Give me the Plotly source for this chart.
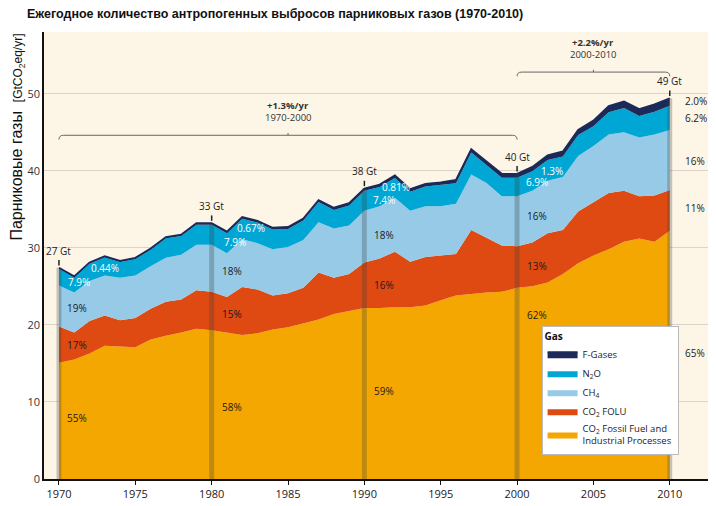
import plotly.graph_objects as go

years = list(range(1970, 2011))
fossil = [15.1, 15.5, 16.3, 17.3, 17.2, 17.1, 18.1, 18.6, 19.0, 19.5,
          19.3, 19.0, 18.7, 18.9, 19.4, 19.7, 20.2, 20.7, 21.4, 21.8,
          22.2, 22.2, 22.3, 22.3, 22.5, 23.2, 23.8, 24.0, 24.2, 24.3,
          24.8, 25.0, 25.5, 26.6, 28.0, 29.0, 29.8, 30.8, 31.2, 30.8, 32.2]
folu = [4.7, 3.5, 4.2, 3.9, 3.4, 3.8, 4.0, 4.4, 4.3, 5.0,
        5.0, 4.6, 6.2, 5.7, 4.4, 4.4, 4.6, 6.1, 4.7, 4.8,
        5.9, 6.4, 7.2, 5.9, 6.3, 5.8, 5.4, 8.3, 7.1, 6.0,
        5.4, 5.7, 6.4, 5.7, 6.7, 6.9, 7.3, 6.6, 5.5, 6.0, 5.3]
ch4 = [5.3, 5.2, 5.2, 5.2, 5.5, 5.5, 5.5, 5.7, 5.8, 5.9,
       6.1, 5.7, 6.2, 6.0, 6.0, 6.0, 6.2, 6.5, 6.4, 6.3,
       6.7, 6.8, 7.0, 6.6, 6.6, 6.4, 6.5, 7.2, 7.1, 6.4,
       6.5, 6.7, 6.8, 6.9, 7.2, 7.3, 7.6, 7.6, 7.6, 7.9, 7.8]
n2o = [2.18, 1.98, 2.27, 2.36, 2.06, 2.15, 2.14, 2.53, 2.42, 2.60,
       2.58, 2.58, 2.67, 2.67, 2.56, 2.35, 2.54, 2.63, 2.42, 2.60,
       2.59, 2.48, 2.57, 2.46, 2.54, 2.72, 2.69, 2.86, 2.33, 2.40,
       2.38, 2.54, 2.70, 2.66, 2.72, 2.56, 2.90, 3.15, 2.80, 2.96, 3.12]
fgas = [0.12, 0.12, 0.13, 0.14, 0.14, 0.15, 0.16, 0.17, 0.18, 0.20,
        0.22, 0.22, 0.23, 0.23, 0.24, 0.25, 0.26, 0.27, 0.28, 0.30,
        0.31, 0.32, 0.33, 0.34, 0.36, 0.38, 0.41, 0.44, 0.47, 0.50,
        0.52, 0.56, 0.60, 0.64, 0.68, 0.74, 0.80, 0.85, 0.90, 0.94, 0.98]

series_names = ["CO<sub>2</sub> Fossil Fuel and<br>Industrial Processes",
                "CO<sub>2</sub> FOLU", "CH<sub>4</sub>", "N<sub>2</sub>O", "F-Gases"]
series_colors = ["#F4A700", "#DE4A12", "#96CAE6", "#00A7D4", "#1C2A5A"]

decades = [1970, 1980, 1990, 2000, 2010]

# percentage labels per decade (1970..2000), inside the chart
pct_fgas = ["0.44%", "0.67%", "0.81%", "1.3%"]
pct_n2o = ["7.9%", "7.9%", "7.4%", "6.9%"]
pct_ch4 = ["19%", "18%", "18%", "16%"]
pct_folu = ["17%", "15%", "16%", "13%"]
pct_fossil = ["55%", "58%", "59%", "62%"]
# labels at the right of 2010
pct_2010 = ["2.0%", "6.2%", "16%", "11%", "65%"]

# growth brackets
bracket_spans = [(1970, 2000), (2000, 2010)]
bracket_rate = ["+1.3%/yr", "+2.2%/yr"]
bracket_period = ["1970-2000", "2000-2010"]

totals = [a + b + c + d + e for a, b, c, d, e in zip(fossil, folu, ch4, n2o, fgas)]

fig = go.Figure()
for vals, name, col in zip([fossil, folu, ch4, n2o, fgas], series_names, series_colors):
    is_top = name == "F-Gases"
    fig.add_trace(go.Scatter(
        x=years, y=vals, name=name, stackgroup="one", mode="lines",
        line=dict(width=1.8 if is_top else 0, color=col),
        fillcolor=col, hoverinfo="skip"))

shapes = []
annotations = []

# decade bars, Gt labels
for yr in decades:
    i = years.index(yr)
    t = totals[i]
    shapes.append(dict(type="rect", xref="x", yref="y", x0=yr - 0.16, x1=yr + 0.16,
                       y0=0, y1=t, fillcolor="rgba(50,60,60,0.28)", line=dict(width=0),
                       layer="above"))
    shapes.append(dict(type="line", xref="x", yref="y", x0=yr, x1=yr, y0=t + 0.3, y1=t + 1.0,
                       line=dict(color="#222", width=1.5)))
    annotations.append(dict(x=yr, y=t + 2.2, xref="x", yref="y", text=f"{round(t)} Gt",
                            showarrow=False, font=dict(size=10, color="#222", family="Open Sans")))

# inside labels
lbl_font = "Open Sans"
pos = {
    1970: [(1973.0, 27.4), (1971.3, 25.6), (1971.2, 22.2), (1971.2, 17.4), (1971.2, 7.9)],
    1980: [(1982.6, 32.6), (1981.5, 30.7), (1981.35, 27.0), (1981.35, 21.4), (1981.35, 9.3)],
    1990: [(1992.1, 37.9), (1991.3, 36.2), (1991.3, 31.6), (1991.3, 25.2), (1991.3, 11.4)],
    2000: [(2002.3, 40.0), (2001.3, 38.5), (2001.3, 34.1), (2001.3, 27.7), (2001.3, 21.3)],
}
for k, yr in enumerate(decades[:4]):
    texts = [pct_fgas[k], pct_n2o[k], pct_ch4[k], pct_folu[k], pct_fossil[k]]
    cols = ["white", "white", "#1a1a1a", "#1a1a1a", "#1a1a1a"]
    for (x, y), tx, c in zip(pos[yr], texts, cols):
        annotations.append(dict(x=x, y=y, xref="x", yref="y", text=tx, showarrow=False,
                                font=dict(size=10, color=c, family=lbl_font)))

right_y = [49.1, 46.9, 41.3, 35.1, 16.3]
for tx, y in zip(pct_2010, right_y):
    annotations.append(dict(x=2010.85, y=y, xref="x", yref="y", text=tx, showarrow=False,
                            xanchor="left", font=dict(size=10, color="#1a1a1a", family=lbl_font)))

# brackets
bracket_y = [44.6, 52.8]
for (a, b), rate, per, by in zip(bracket_spans, bracket_rate, bracket_period, bracket_y):
    mid = (a + b) / 2
    shapes.append(dict(type="path", xref="x", yref="y",
                       path=f"M {a},{by - 0.55} Q {a},{by} {a + 0.3},{by} L {b - 0.3},{by} Q {b},{by} {b},{by - 0.55}",
                       line=dict(color="#666", width=1)))
    shapes.append(dict(type="line", xref="x", yref="y", x0=mid, x1=mid, y0=by, y1=by + 0.3,
                       line=dict(color="#666", width=1)))
    annotations.append(dict(x=mid, y=by + 3.85, xref="x", yref="y", text=f"<b>{rate}</b>",
                            showarrow=False, font=dict(size=9.5, color="#333", family=lbl_font)))
    annotations.append(dict(x=mid, y=by + 2.3, xref="x", yref="y", text=per,
                            showarrow=False, font=dict(size=9.5, color="#333", family=lbl_font)))

# y-axis title
annotations.append(dict(x=-0.039, y=0.766, xref="paper", yref="paper", textangle=-90,
                        text="Парниковые газы  <span style='font-size:12px'>[GtCO<sub>2</sub>eq/yr]</span>",
                        showarrow=False, xanchor="center", yanchor="middle",
                        font=dict(size=16, color="#111", family="Liberation Sans")))

# page body has an 8px margin: figure sized so that the visible window matches
fig.update_layout(
    width=708, height=498,
    margin=dict(l=36, r=5, t=24, b=25),
    paper_bgcolor="white", plot_bgcolor="#FDF5E6",
    title=dict(text="<b>Ежегодное количество антропогенных выбросов парниковых газов (1970-2010)</b>",
               x=19 / 708, xanchor="left", y=1 - 5.5 / 498, yanchor="middle",
               font=dict(size=12.5, color="#111", family="Liberation Sans")),
    xaxis=dict(range=[1969.02, 2012.7], tickvals=list(range(1970, 2011, 5)), showgrid=False,
               showline=True, linecolor="#111", linewidth=1.5, ticks="outside", ticklen=4,
               tickcolor="#111", zeroline=False,
               tickfont=dict(size=11, color="#222", family="Open Sans")),
    yaxis=dict(range=[0, 58], tickvals=list(range(0, 51, 10)), showgrid=True, gridcolor="#D9D4CC",
               gridwidth=1, showline=True, linecolor="#111", linewidth=1.5, zeroline=False,
               ticks="", tickfont=dict(size=11, color="#333", family="Open Sans")),
    legend=dict(x=0.746, y=0.343, xanchor="left", yanchor="top", bgcolor="white",
                bordercolor="#BBBBBB", borderwidth=1, traceorder="reversed", itemwidth=30,
                title=dict(text="<b>Gas</b>", font=dict(size=10, color="#111", family="Open Sans")),
                font=dict(size=9.5, color="#222", family="Open Sans"), tracegroupgap=0),
    shapes=shapes, annotations=annotations, showlegend=True,
)

fig.write_html("out.html")
